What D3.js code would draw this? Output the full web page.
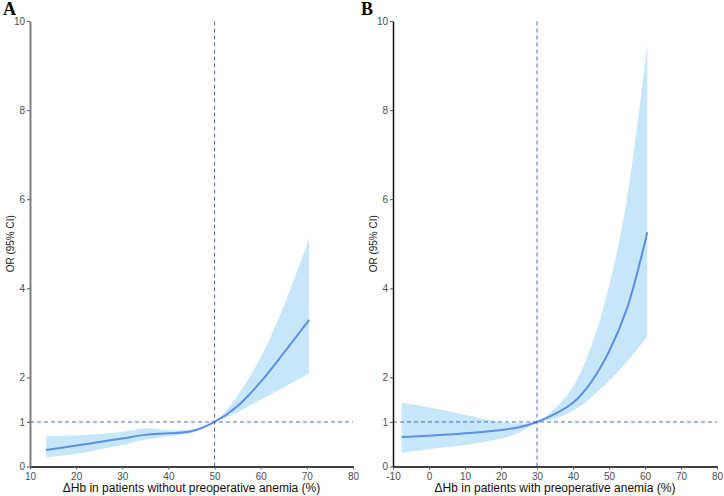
<!DOCTYPE html>
<html><head><meta charset="utf-8">
<script src="https://cdn.jsdelivr.net/npm/d3@7"></script>
<style>body{margin:0;background:#fff}svg{display:block}</style>
</head><body>
<svg id="c" width="724" height="496"></svg>
<script>
// Panel A: without preoperative anemia
const xA = [13.5, 20, 25, 30, 35, 40, 45, 50, 55, 60, 65, 70.5];
const orA = [0.37, 0.47, 0.55, 0.63, 0.71, 0.745, 0.79, 1.0, 1.36, 1.9, 2.55, 3.29];
const loA = [0.21, 0.28, 0.38, 0.48, 0.6, 0.68, 0.75, 1.0, 1.22, 1.5, 1.78, 2.09];
const hiA = [0.68, 0.7, 0.73, 0.78, 0.86, 0.82, 0.83, 1.0, 1.6, 2.45, 3.6, 5.12];
// Panel B: with preoperative anemia
const xB = [-7.6, 0, 10, 20, 25, 30, 35, 40, 45, 50, 55, 60.65];
const orB = [0.66, 0.69, 0.745, 0.82, 0.88, 1.0, 1.18, 1.43, 1.89, 2.58, 3.55, 5.26];
const loB = [0.31, 0.39, 0.48, 0.63, 0.76, 1.0, 1.08, 1.25, 1.55, 1.92, 2.35, 2.91];
const hiB = [1.43, 1.33, 1.16, 0.99, 0.97, 1.0, 1.3, 1.79, 2.69, 4.04, 6.0, 9.48];
const yTicks = [0, 1, 2, 4, 6, 8, 10];
const xTicksA = [10, 20, 30, 40, 50, 60, 70, 80];
const xTicksB = [-10, 0, 10, 20, 30, 40, 50, 60, 70, 80];

const svg = d3.select("#c");
const bandCol = "#c6e6fa", lineCol = "#5b8fe6", dashCol = "#3f6fdc";

function panel(cfg) {
  const x = d3.scaleLinear().domain(cfg.xdom).range([cfg.x0, cfg.x1]);
  const y = d3.scaleLinear().domain([0, 10]).range([466.5, 21]);
  const g = svg.append("g");
  const data = cfg.xs.map((v, i) => ({x: v, or: cfg.or[i], lo: cfg.lo[i], hi: cfg.hi[i]}));
  const curve = d3.curveCatmullRom.alpha(0.5);
  g.append("path").datum(data)
    .attr("d", d3.area().x(d => x(d.x)).y0(d => y(d.lo)).y1(d => y(d.hi)).curve(curve))
    .attr("fill", bandCol);
  g.append("path").datum(data)
    .attr("d", d3.line().x(d => x(d.x)).y(d => y(d.or)).curve(curve))
    .attr("fill", "none").attr("stroke", lineCol).attr("stroke-width", 2);
  // reference lines
  g.append("line").attr("x1", x(cfg.xdom[0])).attr("x2", x(cfg.xdom[1]))
    .attr("y1", y(1)).attr("y2", y(1))
    .attr("stroke", dashCol).attr("stroke-width", 1).attr("stroke-dasharray", "4,3");
  g.append("line").attr("x1", x(cfg.vref)).attr("x2", x(cfg.vref))
    .attr("y1", y(0)).attr("y2", y(10))
    .attr("stroke", dashCol).attr("stroke-width", 1).attr("stroke-dasharray", "4,3");
  // axes
  const ax = g.append("g").attr("transform", `translate(0,${y(0)})`)
    .call(d3.axisBottom(x).tickValues(cfg.xticks).tickFormat(d => String(d))
      .tickSize(3).tickSizeOuter(0).tickPadding(3));
  ax.select(".domain").attr("stroke", "#000").attr("stroke-width", 1.5);
  const ay = g.append("g").attr("transform", `translate(${cfg.x0},0)`)
    .call(d3.axisLeft(y).tickValues(yTicks).tickFormat(d => String(d))
      .tickSize(3).tickSizeOuter(0).tickPadding(2));
  ay.select(".domain").attr("stroke", cfg.yAxisCol).attr("stroke-width", cfg.yAxisW);
  g.selectAll(".tick line").attr("stroke", "#555");
  g.selectAll(".tick text").attr("fill", "#4d4d4d").style("font-family", "Liberation Sans, Arial, sans-serif").style("font-size", "10px");
  // titles
  g.append("text").attr("x", (cfg.x0 + cfg.x1) / 2).attr("y", 492)
    .attr("text-anchor", "middle").style("font-family", "Liberation Sans, Arial, sans-serif")
    .style("font-size", "12px").attr("fill", "#111").text(cfg.xtitle);
  g.append("text").attr("transform", `translate(${cfg.ytx},${(y(0) + y(10)) / 2}) rotate(-90)`)
    .attr("text-anchor", "middle").style("font-family", "Liberation Sans, Arial, sans-serif")
    .style("font-size", "10px").attr("fill", "#222").text("OR (95% CI)");
  g.append("text").attr("x", cfg.lx).attr("y", 15)
    .style("font-family", "Liberation Serif, Times New Roman, serif").style("font-weight", "bold")
    .style("font-size", "18px").attr("fill", "#000").text(cfg.label);
}

panel({xdom: [10, 80], x0: 30, x1: 353, xs: xA, or: orA, lo: loA, hi: hiA, vref: 50,
  xticks: xTicksA, xtitle: "ΔHb in patients without preoperative anemia (%)", ytx: 14,
  label: "A", lx: 3, yAxisCol: "#7f7f7f", yAxisW: 2});
panel({xdom: [-10, 80], x0: 393, x1: 717, xs: xB, or: orB, lo: loB, hi: hiB, vref: 30,
  xticks: xTicksB, xtitle: "ΔHb in patients with preoperative anemia (%)", ytx: 377,
  label: "B", lx: 361, yAxisCol: "#111", yAxisW: 1.5});
</script>
</body></html>
